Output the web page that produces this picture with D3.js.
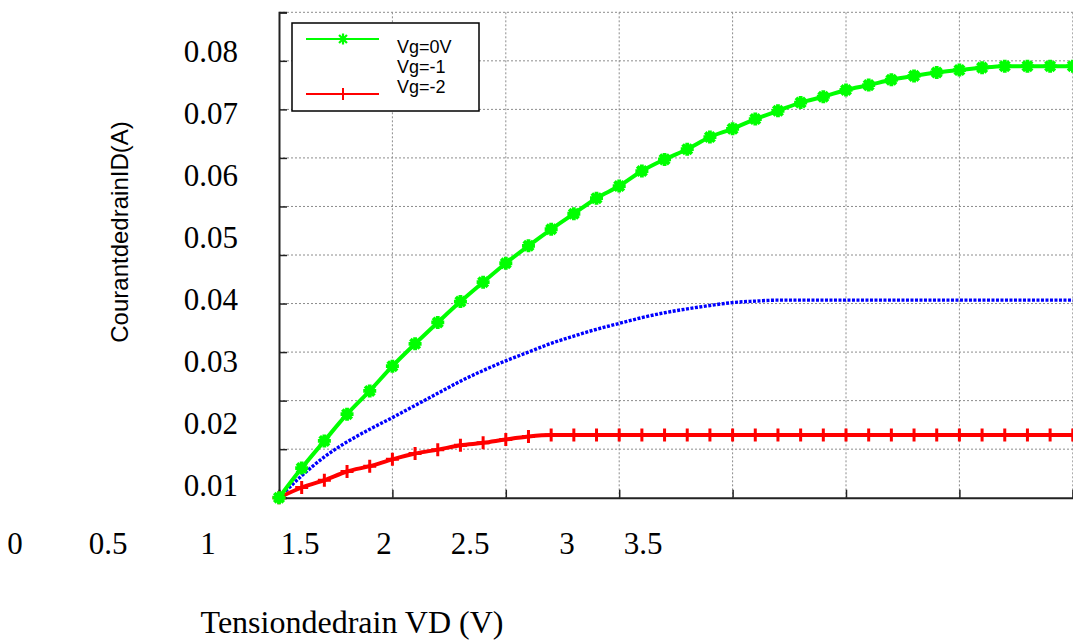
<!DOCTYPE html>
<html>
<head>
<meta charset="utf-8">
<script src="https://cdn.jsdelivr.net/npm/d3@7"></script>
<style>
  html, body { margin: 0; padding: 0; background: #fff; }
  svg { display: block; }
</style>
</head>
<body>
<svg id="chart" width="1073" height="641"></svg>
<script>
// Drain voltage samples (V), one every 0.1 V
const vd = d3.range(0, 36).map(i => +(i * 0.1).toFixed(1));

// Drain current (A) for each gate voltage
const idVg0 = [0, 0.0061, 0.0117, 0.0172, 0.0220, 0.0271, 0.0317, 0.0361, 0.0404, 0.0444,
  0.0483, 0.0519, 0.0553, 0.0585, 0.0617, 0.0642, 0.0673, 0.0697, 0.0718, 0.0743,
  0.0760, 0.0780, 0.0797, 0.0814, 0.0826, 0.0840, 0.0850, 0.0861, 0.0869, 0.0876,
  0.0881, 0.0886, 0.0889, 0.0889, 0.0889, 0.0889];
const idVg1 = [0, 0.0045, 0.0084, 0.0115, 0.0141, 0.0165, 0.0190, 0.0215, 0.0240, 0.0262,
  0.0282, 0.0300, 0.0318, 0.0333, 0.0347, 0.0359, 0.0371, 0.0381, 0.0389, 0.0396,
  0.0402, 0.0405, 0.0407, 0.0407, 0.0407, 0.0407, 0.0407, 0.0407, 0.0407, 0.0407,
  0.0407, 0.0407, 0.0407, 0.0407, 0.0407, 0.0407];
const idVg2 = [0, 0.0021, 0.0036, 0.0054, 0.0065, 0.0079, 0.0091, 0.0099, 0.0108, 0.0113,
  0.0120, 0.0126, 0.0129, 0.0129, 0.0129, 0.0129, 0.0129, 0.0129, 0.0129, 0.0129,
  0.0129, 0.0129, 0.0129, 0.0129, 0.0129, 0.0129, 0.0129, 0.0129, 0.0129, 0.0129,
  0.0129, 0.0129, 0.0129, 0.0129, 0.0129, 0.0129];

// Axis tick labels
const xTickLabels = [0, 0.5, 1, 1.5, 2, 2.5, 3, 3.5];
const yTickLabels = [0.01, 0.02, 0.03, 0.04, 0.05, 0.06, 0.07, 0.08];
const legendLabels = ["Vg=0V", "Vg=-1", "Vg=-2"];

const svg = d3.select("#chart");

// Plot frame
const plotLeft = 279, plotRight = 1072.8, plotTop = 12.3, plotBottom = 497.7;
const x = d3.scaleLinear().domain([0, 3.5]).range([plotLeft, plotRight]);
const y = d3.scaleLinear().domain([0, 0.1]).range([plotBottom, plotTop]);

// Tick label placement (labels sit apart from the grid)
const xLab = d3.scaleLinear().domain(xTickLabels).range([15, 108, 208, 300, 384, 470, 567, 643]);
const yLab = d3.scaleLinear().domain([0.01, 0.08]).range([485, 51]);

// Dotted grid
const gridX = d3.range(0, 3.51, 0.5);
const gridY = d3.range(0, 0.1001, 0.01);
const grid = svg.append("g").attr("stroke", "#8c8c8c").attr("stroke-width", 1)
  .attr("stroke-dasharray", "2,2");
grid.selectAll("line.gx").data(gridX.slice(1)).join("line").attr("class", "gx")
  .attr("x1", d => x(d)).attr("x2", d => x(d)).attr("y1", plotTop).attr("y2", plotBottom);
grid.selectAll("line.gy").data(gridY.slice(1)).join("line").attr("class", "gy")
  .attr("x1", plotLeft).attr("x2", plotRight).attr("y1", d => y(d)).attr("y2", d => y(d));

// Axes with inward ticks
const yAxis = d3.axisRight(y).tickValues(gridY).tickSize(8).tickFormat("");
const xAxis = d3.axisTop(x).tickValues(gridX).tickSize(8).tickFormat("");
const ya = svg.append("g").attr("transform", `translate(${plotLeft},0)`).call(yAxis);
const xa = svg.append("g").attr("transform", `translate(0,${plotBottom})`).call(xAxis);
[ya, xa].forEach(g => {
  g.select(".domain").attr("stroke", "#222").attr("stroke-width", 2);
  g.selectAll(".tick line").attr("stroke", "#222").attr("stroke-width", 1.5);
});

// Curves
const line = d3.line().x((d, i) => x(vd[i])).y(d => y(d)).curve(d3.curveMonotoneX);

svg.append("path").datum(idVg1).attr("d", line)
  .attr("fill", "none").attr("stroke", "#0000ff").attr("stroke-width", 3.4)
  .attr("stroke-dasharray", "3,1.5");

svg.append("path").datum(idVg2).attr("d", line)
  .attr("fill", "none").attr("stroke", "#ff0000").attr("stroke-width", 4);

svg.append("path").datum(idVg0).attr("d", line)
  .attr("fill", "none").attr("stroke", "#00ff00").attr("stroke-width", 4);

// Marker shapes
function plusPath(r) {
  return `M${-r},0H${r}M0,${-r}V${r}`;
}
function starPath(r) {
  const k = r * 0.72;
  return `M${-r},0H${r}M0,${-r}V${r}M${-k},${-k}L${k},${k}M${-k},${k}L${k},${-k}`;
}

svg.append("g").selectAll("path").data(idVg2).join("path")
  .attr("transform", (d, i) => `translate(${x(vd[i])},${y(d)})`)
  .attr("d", plusPath(6.5)).attr("fill", "none")
  .attr("stroke", "#ff0000").attr("stroke-width", 3);

svg.append("g").selectAll("path").data(idVg0).join("path")
  .attr("transform", (d, i) => `translate(${x(vd[i])},${y(d)})`)
  .attr("d", starPath(6.5)).attr("fill", "none")
  .attr("stroke", "#00ff00").attr("stroke-width", 3.8);

// Tick labels
svg.append("g").selectAll("text").data(yTickLabels).join("text")
  .attr("x", 238).attr("y", d => yLab(d)).attr("dy", "0.35em")
  .attr("text-anchor", "end")
  .attr("font-family", "'Liberation Serif', 'Times New Roman', serif")
  .attr("font-size", 31).attr("fill", "#000")
  .text(d => d.toFixed(2));

svg.append("g").selectAll("text").data(xTickLabels).join("text")
  .attr("x", d => xLab(d)).attr("y", 543).attr("dy", "0.35em")
  .attr("text-anchor", "middle")
  .attr("font-family", "'Liberation Serif', 'Times New Roman', serif")
  .attr("font-size", 31).attr("fill", "#000")
  .text(d => String(d));

// Axis titles
svg.append("text")
  .attr("transform", "translate(120,232) rotate(-90)")
  .attr("text-anchor", "middle").attr("dy", "0.35em")
  .attr("font-family", "'Liberation Sans', Arial, sans-serif")
  .attr("font-size", 24).attr("fill", "#000")
  .text("CourantdedrainID(A)");

svg.append("text")
  .attr("x", 352).attr("y", 622).attr("dy", "0.35em")
  .attr("text-anchor", "middle")
  .attr("font-family", "'Liberation Serif', 'Times New Roman', serif")
  .attr("font-size", 32).attr("fill", "#000")
  .text("Tensiondedrain VD (V)");

// Legend
const lg = svg.append("g");
lg.append("rect").attr("x", 292).attr("y", 23).attr("width", 187).attr("height", 88)
  .attr("fill", "#fff").attr("stroke", "#000").attr("stroke-width", 1.5);
lg.append("line").attr("x1", 306).attr("x2", 379).attr("y1", 39).attr("y2", 39)
  .attr("stroke", "#00ff00").attr("stroke-width", 2);
lg.append("path").attr("transform", "translate(343,39)").attr("d", starPath(5.5))
  .attr("stroke", "#00ff00").attr("stroke-width", 2.2);
lg.append("line").attr("x1", 306).attr("x2", 379).attr("y1", 94).attr("y2", 94)
  .attr("stroke", "#ff0000").attr("stroke-width", 2);
lg.append("path").attr("transform", "translate(343,94)").attr("d", plusPath(6))
  .attr("stroke", "#ff0000").attr("stroke-width", 2);
lg.selectAll("text").data(legendLabels).join("text")
  .attr("x", 397).attr("y", (d, i) => [53, 73, 93][i])
  .attr("font-family", "'Liberation Sans', Arial, sans-serif")
  .attr("font-size", 18).attr("fill", "#000")
  .text(d => d);
</script>
</body>
</html>
